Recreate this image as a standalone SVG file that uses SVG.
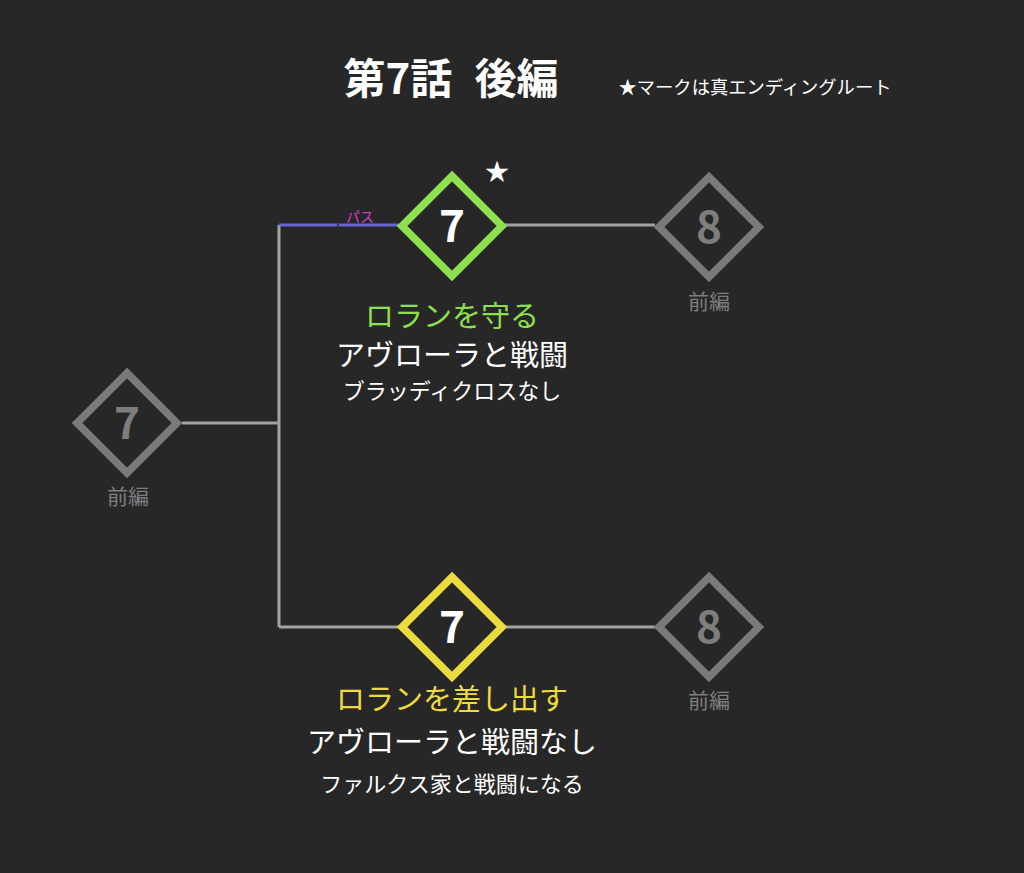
<svg xmlns="http://www.w3.org/2000/svg" width="1024" height="873" viewBox="0 0 1024 873">
<style>
text{font-family:"Noto Sans CJK JP","Noto Sans",sans-serif;text-anchor:middle}
.dia{fill:none;stroke-width:7.5}
.gray{stroke:#7a7a7a}
.green{stroke:#8ee04e}
.yellow{stroke:#ecdb3f}
.num{font-weight:bold;font-size:44px}
.sub{fill:#7e7e7e;font-size:21px}
.lbl{font-size:29px}
.small{font-size:22px;fill:#ffffff}
.ln{stroke:#a3a3a3;stroke-width:3;fill:none}
</style>
<rect width="1024" height="873" fill="#272727"/>
<text x="451" y="94" fill="#ffffff" font-size="42" font-weight="bold">第7話<tspan dx="22">後編</tspan></text>
<text x="755" y="94" fill="#ffffff" font-size="18.3">★マークは真エンディングルート</text>
<g id="connectors">
<path class="ln" d="M182 423H279M279 225V627M279 627H400M505 225H655M505 627H655"/>
<path d="M279 225H400" stroke="#6666d4" stroke-width="3"/>
<path d="M336 223L340 227M340 223L336 227" stroke="#333355" stroke-width="1"/>
<text x="360" y="222" fill="#cc44cc" font-size="14">パス</text>
</g>
<g id="node-left">
<path class="dia gray" d="M127 373L177 423L127 473L77 423Z"/>
<text x="127" y="439" class="num" fill="#7e7e7e" font-weight="normal">7</text>
<text x="128" y="504" class="sub">前編</text>
</g>
<g id="node-top">
<path class="dia green" d="M452 176L502 226L452 276L402 226Z"/>
<text x="452" y="242" class="num" fill="#ffffff">7</text>
<text x="497" y="180" fill="#ffffff" font-size="24">★</text>
<text x="452" y="327" class="lbl" fill="#8ee04e">ロランを守る</text>
<text x="452" y="366" class="lbl" fill="#ffffff">アヴローラと戦闘</text>
<text x="452" y="399" class="small">ブラッディクロスなし</text>
</g>
<g id="node-top-next">
<path class="dia gray" d="M709 177L759 227L709 277L659 227Z"/>
<text x="709" y="243" class="num" fill="#7e7e7e">8</text>
<text x="709" y="309" class="sub">前編</text>
</g>
<g id="node-bottom">
<path class="dia yellow" d="M452 577L502 627L452 677L402 627Z"/>
<text x="452" y="643" class="num" fill="#ffffff">7</text>
<text x="452" y="710" class="lbl" fill="#ecdb3f">ロランを差し出す</text>
<text x="452" y="753" class="lbl" fill="#ffffff">アヴローラと戦闘なし</text>
<text x="452" y="792" class="small">ファルクス家と戦闘になる</text>
</g>
<g id="node-bottom-next">
<path class="dia gray" d="M709 577L759 627L709 677L659 627Z"/>
<text x="709" y="643" class="num" fill="#7e7e7e">8</text>
<text x="709" y="708" class="sub">前編</text>
</g>
</svg>
